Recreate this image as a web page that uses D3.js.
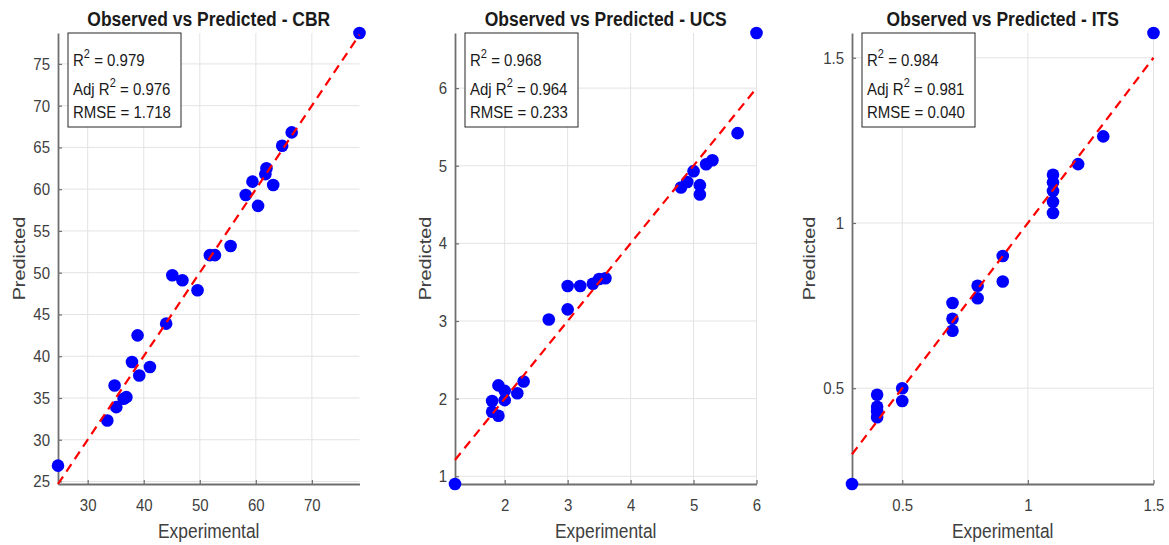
<!DOCTYPE html>
<html>
<head>
<meta charset="utf-8">
<script src="https://cdn.jsdelivr.net/npm/d3@7"></script>
<style>
  body { margin: 0; background: #fff; }
  svg { display: block; font-family: "Liberation Sans", Arial, Helvetica, sans-serif; }
</style>
</head>
<body>
<svg id="chart" width="1169" height="545"></svg>
<script>
// Observed vs predicted values

// CBR
const cbrObserved  = [24.7, 33.5, 35.1, 34.8, 36.4, 36.9, 37.9, 39.2, 38.9, 41.1, 44.0, 45.1, 46.9,
                      49.6, 51.8, 52.7, 55.5, 58.2, 59.4, 60.4, 61.7, 61.9, 63.1, 64.7, 66.4, 78.5];
const cbrPredicted = [26.9, 32.3, 33.9, 36.5, 34.9, 35.1, 39.3, 37.7, 42.5, 38.7, 43.9, 49.7, 49.1,
                      47.9, 52.1, 52.1, 53.2, 59.3, 60.9, 58.0, 61.8, 62.5, 60.5, 65.2, 66.8, 78.7];
const cbrXTicks = [30, 40, 50, 60, 70];
const cbrYTicks = [25, 30, 35, 40, 45, 50, 55, 60, 65, 70, 75];

// UCS
const ucsObserved  = [1.21, 1.8, 1.8, 1.9, 1.9, 2.0, 2.0, 2.2, 2.3, 2.7, 3.0, 3.0, 3.2,
                      3.4, 3.5, 3.6, 4.8, 4.9, 5.0, 5.1, 5.1, 5.2, 5.3, 5.7, 6.0];
const ucsPredicted = [0.90, 1.83, 1.97, 1.78, 2.17, 1.98, 2.10, 2.07, 2.22, 3.02, 3.15, 3.45, 3.45,
                      3.48, 3.54, 3.55, 4.72, 4.79, 4.93, 4.75, 4.63, 5.02, 5.07, 5.42, 6.71];
const ucsXTicks = [2, 3, 4, 5, 6];
const ucsYTicks = [1, 2, 3, 4, 5, 6];

// ITS
const itsObserved  = [0.3, 0.4, 0.4, 0.4, 0.4, 0.5, 0.5, 0.7, 0.7, 0.7, 0.8, 0.8, 0.9,
                      0.9, 1.1, 1.1, 1.1, 1.1, 1.1, 1.2, 1.3, 1.5];
const itsPredicted = [0.21, 0.412, 0.43, 0.444, 0.48, 0.461, 0.5, 0.674, 0.71, 0.758, 0.772, 0.81, 0.823,
                      0.9, 1.03, 1.064, 1.097, 1.123, 1.146, 1.178, 1.262, 1.575];
const itsXTicks = [0.5, 1, 1.5];
const itsYTicks = [0.5, 1, 1.5];

const targets = ["CBR", "UCS", "ITS"];
const r2Values = ["0.979", "0.968", "0.984"];
const adjR2Values = ["0.976", "0.964", "0.981"];
const rmseValues = ["1.718", "0.233", "0.040"];

const panels = [
    { obs: cbrObserved, pred: cbrPredicted, xTicks: cbrXTicks, yTicks: cbrYTicks },
    { obs: ucsObserved, pred: ucsPredicted, xTicks: ucsXTicks, yTicks: ucsYTicks },
    { obs: itsObserved, pred: itsPredicted, xTicks: itsXTicks, yTicks: itsYTicks }
];

// layout
const axTop = 33, axBottom = 484, axWidth = 301.5;
const axLefts = [58, 455, 852];
const yStretch = 1.14;   // reference text is a bit taller than it is wide
const axisColor = "#6f6f6f";
const gridColor = "#e3e3e3";
const textColor = "#404040";

const svg = d3.select("#chart");

panels.forEach((p, i) => drawPanel(p, i, axLefts[i]));

function drawPanel(p, i, left) {
    const right = left + axWidth;
    const xLim = d3.extent(p.obs);
    const x = d3.scaleLinear().domain(xLim).range([left, right]);
    const y = d3.scaleLinear().domain(d3.extent(p.pred.concat(xLim))).range([axBottom, axTop]);

    const g = svg.append("g");

    // grid
    g.append("g").selectAll("line").data(p.xTicks).join("line")
        .attr("x1", d => x(d)).attr("x2", d => x(d))
        .attr("y1", axTop).attr("y2", axBottom)
        .attr("stroke", gridColor).attr("stroke-width", 1);
    g.append("g").selectAll("line").data(p.yTicks).join("line")
        .attr("x1", left).attr("x2", right)
        .attr("y1", d => y(d)).attr("y2", d => y(d))
        .attr("stroke", gridColor).attr("stroke-width", 1);

    // axes
    const xAxis = g.append("g")
        .attr("transform", `translate(0,${axBottom})`)
        .call(d3.axisBottom(x).tickValues(p.xTicks).tickFormat(d3.format("~g"))
            .tickSizeInner(-4).tickSizeOuter(0).tickPadding(13));
    const yAxis = g.append("g")
        .attr("transform", `translate(${left},0)`)
        .call(d3.axisLeft(y).tickValues(p.yTicks).tickFormat(d3.format("~g"))
            .tickSizeInner(-4).tickSizeOuter(0).tickPadding(8));

    [xAxis, yAxis].forEach(ax => {
        ax.select(".domain").attr("stroke", axisColor).attr("stroke-width", 1.8);
        ax.selectAll(".tick line").attr("stroke", axisColor).attr("stroke-width", 1.2);
        ax.selectAll(".tick text")
            .attr("fill", textColor)
            .attr("font-size", 15)
            .attr("font-family", "Liberation Sans, Arial, sans-serif")
            .attr("transform", `scale(1,${yStretch})`);
    });

    // points
    g.append("g").selectAll("circle").data(p.obs).join("circle")
        .attr("cx", d => x(d))
        .attr("cy", (d, k) => y(p.pred[k]))
        .attr("r", 6.3)
        .attr("fill", "#0000ff");

    // 1:1 reference line
    const line = d3.line().x(d => x(d)).y(d => y(d));
    g.append("path")
        .datum(xLim)
        .attr("d", line)
        .attr("fill", "none")
        .attr("stroke", "#ff0000")
        .attr("stroke-width", 2.2)
        .attr("stroke-dasharray", "9,6");

    // title
    g.append("text")
        .attr("transform", `translate(${(left + right) / 2},26) scale(1,${yStretch})`)
        .attr("text-anchor", "middle")
        .attr("font-size", 17.5)
        .attr("font-weight", "bold")
        .attr("fill", "#1a1a1a")
        .text(`Observed vs Predicted - ${targets[i]}`);

    // axis labels
    g.append("text")
        .attr("transform", `translate(${(left + right) / 2},538) scale(1,${yStretch})`)
        .attr("text-anchor", "middle")
        .attr("font-size", 17.4)
        .attr("fill", textColor)
        .text("Experimental");

    // bbox is in the axis group's own space, so add its left offset back
    const yb = yAxis.node().getBBox();
    g.append("text")
        .attr("transform", `translate(${left + yb.x - 8},${(axTop + axBottom) / 2}) scale(1,${yStretch}) rotate(-90)`)
        .attr("text-anchor", "middle")
        .attr("font-size", 17.4)
        .attr("fill", textColor)
        .text("Predicted");

    // stats box
    const bx = left + 10;
    g.append("rect")
        .attr("x", bx).attr("y", axTop)
        .attr("width", 113).attr("height", 94)
        .attr("fill", "#fff")
        .attr("stroke", "#262626").attr("stroke-width", 1);

    const lines = [
        { pre: "R", post: " = " + r2Values[i], base: 32.5 },
        { pre: "Adj R", post: " = " + adjR2Values[i], base: 62 },
        { pre: "RMSE = " + rmseValues[i], post: null, base: 84.5 }
    ];
    lines.forEach(l => {
        const t = g.append("text")
            .attr("transform", `translate(${bx + 5},${axTop + l.base}) scale(1,${yStretch})`)
            .attr("font-size", 15)
            .attr("fill", "#1a1a1a");
        t.append("tspan").text(l.pre);
        if (l.post) {
            t.append("tspan").attr("dy", -7).attr("font-size", 11).text("2");
            t.append("tspan").attr("dy", 7).text(l.post);
        }
    });
}
</script>
</body>
</html>
